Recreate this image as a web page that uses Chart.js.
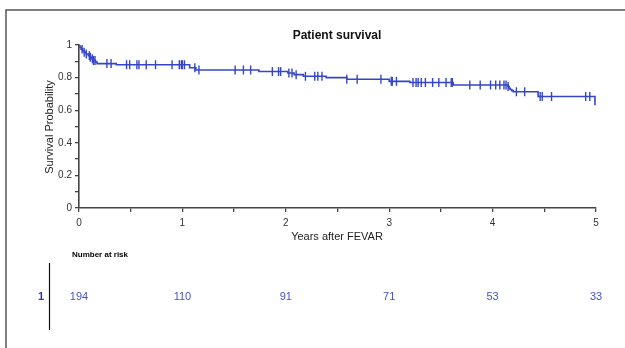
<!DOCTYPE html>
<html>
<head>
<meta charset="utf-8">
<script src="https://cdn.jsdelivr.net/npm/chart.js@4/dist/chart.umd.min.js"></script>
<style>
  html, body { margin: 0; padding: 0; background: #fff; }
  #wrap { position: relative; width: 625px; height: 348px; }
</style>
</head>
<body>
<div id="wrap"><canvas id="km" width="625" height="348"></canvas></div>
<script>
// Kaplan-Meier steps (years, survival after event)
const eventTimes = [0, 0.01, 0.02, 0.035, 0.05, 0.07, 0.09, 0.11, 0.125, 0.14, 0.16, 0.175, 0.36,
  1.07, 1.13, 1.74, 2.02, 2.08, 2.17, 2.39, 2.59, 3.0, 3.2, 3.62,
  4.15, 4.16, 4.17, 4.185, 4.2, 4.44, 4.99]
const eventSurv = [1.0, 0.985, 0.975, 0.965, 0.955, 0.945, 0.935, 0.925, 0.915, 0.905, 0.895, 0.886, 0.879,
  0.86, 0.847, 0.837, 0.828, 0.818, 0.808, 0.8, 0.79, 0.777, 0.77, 0.755,
  0.745, 0.735, 0.727, 0.72, 0.713, 0.684, 0.63]
// censored observations (tick marks)
const censorTimes = [0.03, 0.05, 0.07, 0.1, 0.11, 0.13, 0.14, 0.155, 0.27, 0.31, 0.46, 0.49, 0.56, 0.58,
  0.65, 0.74, 0.9, 0.97, 0.99, 1.0, 1.02, 1.12, 1.16, 1.51, 1.59, 1.66, 1.87, 1.93, 1.95,
  2.03, 2.06, 2.1, 2.19, 2.28, 2.31, 2.35, 2.59, 2.69, 2.92, 3.02, 3.03, 3.07, 3.23, 3.26,
  3.28, 3.31, 3.35, 3.42, 3.48, 3.55, 3.6, 3.61, 3.78, 3.88, 3.98, 4.03, 4.07, 4.11, 4.13,
  4.15, 4.23, 4.31, 4.46, 4.48, 4.57, 4.9, 4.94]
const riskYears = [0, 1, 2, 3, 4, 5]
const riskCounts = [194, 110, 91, 71, 53, 33]
const yLabels = ['0', '0.2', '0.4', '0.6', '0.8', '1']

const lineColor = '#3545c8'
const riskColor = '#4452cc'
const font = '"Liberation Sans", Arial, sans-serif'

function survivalAt (t) {
  let s = 1
  eventTimes.forEach(function (et, i) {
    if (et <= t) s = eventSurv[i]
  })
  return s
}

const curve = eventTimes.map((t, i) => ({ x: t, y: eventSurv[i] }))
const censored = censorTimes.map(t => ({ x: t, y: survivalAt(t) }))

// frame, title, axis titles and risk table
const extras = {
  id: 'extras',
  afterDraw (chart) {
    const ctx = chart.ctx
    const x = chart.scales.x
    ctx.save()
    ctx.strokeStyle = '#555'
    ctx.lineWidth = 1.5
    ctx.beginPath()
    ctx.moveTo(625, 10)
    ctx.lineTo(6, 10)
    ctx.lineTo(6, 348)
    ctx.stroke()

    ctx.fillStyle = '#111'
    ctx.textAlign = 'center'
    ctx.textBaseline = 'middle'
    ctx.font = 'bold 12px ' + font
    ctx.fillText('Patient survival', 337, 36)

    ctx.font = '11px ' + font
    ctx.fillStyle = '#222'
    ctx.fillText('Years after FEVAR', 337, 237)
    ctx.save()
    ctx.translate(50, 127)
    ctx.rotate(-Math.PI / 2)
    ctx.fillText('Survival Probability', 0, 0)
    ctx.restore()

    ctx.textAlign = 'left'
    ctx.font = 'bold 8px ' + font
    ctx.fillStyle = '#000'
    ctx.fillText('Number at risk', 72, 255)

    ctx.strokeStyle = '#111'
    ctx.lineWidth = 1.2
    ctx.beginPath()
    ctx.moveTo(49.5, 263)
    ctx.lineTo(49.5, 330)
    ctx.stroke()

    ctx.textAlign = 'center'
    ctx.fillStyle = '#2a38b8'
    ctx.font = 'bold 11px ' + font
    ctx.fillText('1', 41, 297)
    ctx.fillStyle = riskColor
    ctx.font = '11px ' + font
    riskYears.forEach(function (yr, i) {
      ctx.fillText(String(riskCounts[i]), x.getPixelForValue(yr), 297)
    })
    ctx.restore()
  }
}

new Chart(document.getElementById('km'), {
  type: 'scatter',
  data: {
    datasets: [
      {
        data: curve,
        showLine: true,
        stepped: 'before',
        borderColor: lineColor,
        borderWidth: 1.6,
        pointRadius: 0,
        fill: false
      },
      {
        data: censored,
        showLine: false,
        pointStyle: 'line',
        rotation: 90,
        pointRadius: 4.5,
        borderColor: lineColor,
        pointBorderWidth: 1.4,
        pointHoverRadius: 4.5
      }
    ]
  },
  options: {
    responsive: false,
    animation: false,
    layout: { padding: { left: 0, top: 45, right: 29, bottom: 100 } },
    plugins: { legend: { display: false }, tooltip: { enabled: false }, title: { display: false } },
    scales: {
      x: {
        type: 'linear',
        min: 0,
        max: 5,
        afterFit: function (scale) { scale.height = 40 },
        border: { display: true, color: '#444', width: 1.6 },
        grid: { drawOnChartArea: false, drawTicks: true, tickLength: 4, color: '#444', lineWidth: 1.3 },
        ticks: {
          stepSize: 0.5,
          padding: 5,
          maxRotation: 0,
          color: '#333',
          font: { family: font, size: 10 },
          callback: function (v) { return Number.isInteger(v) ? String(v) : '' }
        }
      },
      y: {
        min: 0,
        max: 1,
        afterFit: function (scale) { scale.width = 79 },
        border: { display: true, color: '#444', width: 1.6 },
        grid: { drawOnChartArea: false, drawTicks: true, tickLength: 4, color: '#444', lineWidth: 1.3 },
        ticks: {
          stepSize: 0.1,
          padding: 3,
          color: '#333',
          font: { family: font, size: 10 },
          callback: function (v) {
            const k = Math.round(v * 10)
            return k % 2 === 0 ? yLabels[k / 2] : ''
          }
        }
      }
    }
  },
  plugins: [extras]
})
</script>
</body>
</html>
